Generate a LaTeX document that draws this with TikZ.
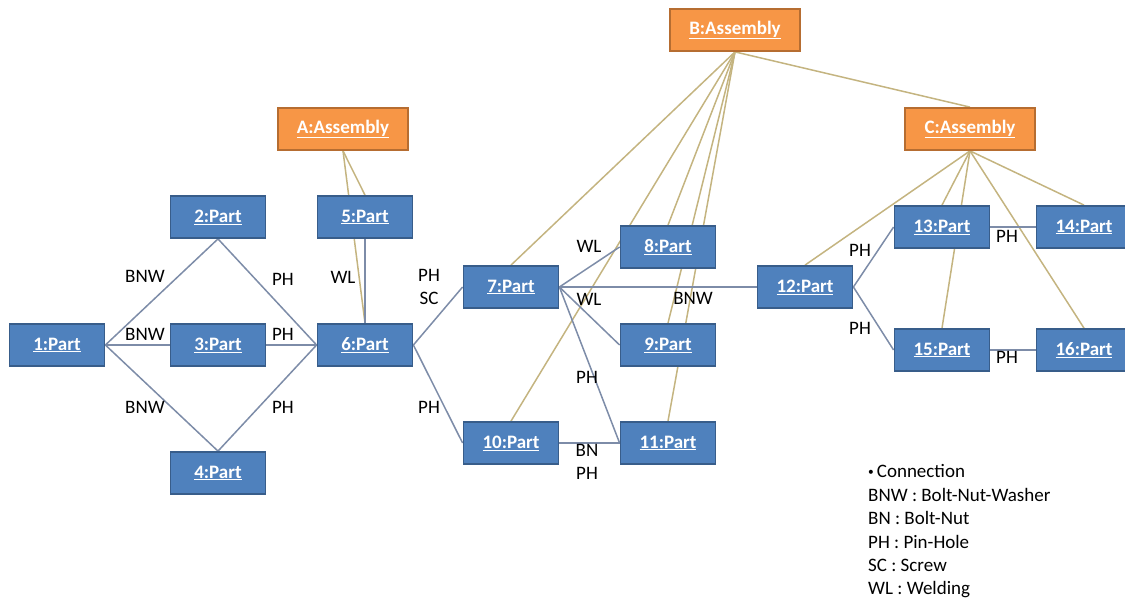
\documentclass[tikz,border=0pt]{standalone}
\usepackage{fontspec}
\setmainfont{Carlito}
\usetikzlibrary{backgrounds}
\definecolor{partfill}{HTML}{4F81BD}
\definecolor{partdraw}{HTML}{385D8A}
\definecolor{asmfill}{HTML}{F79646}
\definecolor{asmdraw}{HTML}{B66D31}
\definecolor{linkgray}{RGB}{125,140,168}
\definecolor{memgold}{RGB}{196,180,128}
\begin{document}
\begin{tikzpicture}[x=1pt,y=-1pt,
  part/.style={draw=partdraw, fill=partfill, line width=1.8pt,
    minimum width=95pt, minimum height=42pt, inner sep=0pt, text=white,
    font=\fontsize{19}{23}\selectfont\bfseries},
  asm/.style={part, draw=asmdraw, fill=asmfill, minimum width=130pt},
  link/.style={draw=linkgray, line width=1.5pt},
  member/.style={draw=memgold, line width=1.5pt},
  lbl/.style={font=\fontsize{19}{23}\selectfont, text=black, inner sep=0pt, align=center},
  legend/.style={font=\fontsize{19}{23}\selectfont, text=black, inner sep=0pt, anchor=base west},
]
\useasboundingbox (0,0) rectangle (1125,600);
\clip (0,0) rectangle (1125,600);

% assemblies
\node[asm] (A) at (343,129) {\underline{A:Assembly}};
\node[asm] (B) at (735,30)  {\underline{B:Assembly}};
\node[asm] (C) at (970,129) {\underline{C:Assembly}};

% parts
\node[part] (p1)  at (57,345)   {\underline{1:Part}};
\node[part] (p2)  at (218,217)  {\underline{2:Part}};
\node[part] (p3)  at (218,345)  {\underline{3:Part}};
\node[part] (p4)  at (218,473)  {\underline{4:Part}};
\node[part] (p5)  at (365,217)  {\underline{5:Part}};
\node[part] (p6)  at (365,345)  {\underline{6:Part}};
\node[part] (p7)  at (511,287)  {\underline{7:Part}};
\node[part] (p8)  at (668,247)  {\underline{8:Part}};
\node[part] (p9)  at (668,345)  {\underline{9:Part}};
\node[part] (p10) at (511,443)  {\underline{10:Part}};
\node[part] (p11) at (668,443)  {\underline{11:Part}};
\node[part] (p12) at (805,287)  {\underline{12:Part}};
\node[part] (p13) at (942,227)  {\underline{13:Part}};
\node[part] (p14) at (1084,227) {\underline{14:Part}};
\node[part] (p15) at (942,350)  {\underline{15:Part}};
\node[part] (p16) at (1084,350) {\underline{16:Part}};

\begin{pgfonlayer}{background}
  % membership of parts in assemblies
  \draw[member] (A.south) -- (p5.north);
  \draw[member] (A.south) -- (p6.north);
  \draw[member] (B.south) -- (p7.north);
  \draw[member] (B.south) -- (p8.north);
  \draw[member] (B.south) -- (p9.north);
  \draw[member] (B.south) -- (p10.north);
  \draw[member] (B.south) -- (p11.north);
  \draw[member] (B.south) -- (C.north);
  \draw[member] (C.south) -- (p12.north);
  \draw[member] (C.south) -- (p13.north);
  \draw[member] (C.south) -- (p14.north);
  \draw[member] (C.south) -- (p15.north);
  \draw[member] (C.south) -- (p16.north);
  % connections between parts
  \draw[link] (p1.east) -- (p2.south);
  \draw[link] (p1.east) -- (p3.west);
  \draw[link] (p1.east) -- (p4.north);
  \draw[link] (p2.south) -- (p6.west);
  \draw[link] (p3.east) -- (p6.west);
  \draw[link] (p4.north) -- (p6.west);
  \draw[link] (p5.south) -- (p6.north);
  \draw[link] (p6.east) -- (p7.west);
  \draw[link] (p6.east) -- (p10.west);
  \draw[link] (p7.east) -- (p8.west);
  \draw[link] (p7.east) -- (p9.west);
  \draw[link] (p7.east) -- (p11.west);
  \draw[link] (p7.east) -- (p12.west);
  \draw[link] (p10.east) -- (p11.west);
  \draw[link] (p12.east) -- (p13.west);
  \draw[link] (p12.east) -- (p15.west);
  \draw[link] (p13.east) -- (p14.west);
  \draw[link] (p15.east) -- (p16.west);
\end{pgfonlayer}

% connection type labels
\node[lbl] (t12)  at (145,276) {BNW};
\node[lbl] (t13)  at (145,334) {BNW};
\node[lbl] (t14)  at (145,407) {BNW};
\node[lbl] (t26)  at (283,279) {PH};
\node[lbl] (t36)  at (283,334) {PH};
\node[lbl] (t46)  at (283,407) {PH};
\node[lbl] (t56)  at (343,277) {WL};
\node[lbl] (t67)  at (429,287) {PH\\SC};
\node[lbl] (t610) at (429,407) {PH};
\node[lbl] (t78)  at (589,246) {WL};
\node[lbl] (t79)  at (589,299) {WL};
\node[lbl] (t712) at (693,298) {BNW};
\node[lbl] (t711) at (587,377) {PH};
\node[lbl] (t1011) at (587,462) {BN\\PH};
\node[lbl] (t1213) at (860,250) {PH};
\node[lbl] (t1215) at (860,328) {PH};
\node[lbl] (t1314) at (1007,236) {PH};
\node[lbl] (t1516) at (1007,357) {PH};

% legend
\node[legend] (leg0) at (868,477) {\raisebox{1.5pt}{\scalebox{0.6}{•}}\hspace{3pt}Connection};
\node[legend] (leg1) at (868,501) {BNW : Bolt-Nut-Washer};
\node[legend] (leg2) at (868,524) {BN : Bolt-Nut};
\node[legend] (leg3) at (868,548) {PH : Pin-Hole};
\node[legend] (leg4) at (868,571) {SC : Screw};
\node[legend] (leg5) at (868,594) {WL : Welding};
\end{tikzpicture}
\end{document}
